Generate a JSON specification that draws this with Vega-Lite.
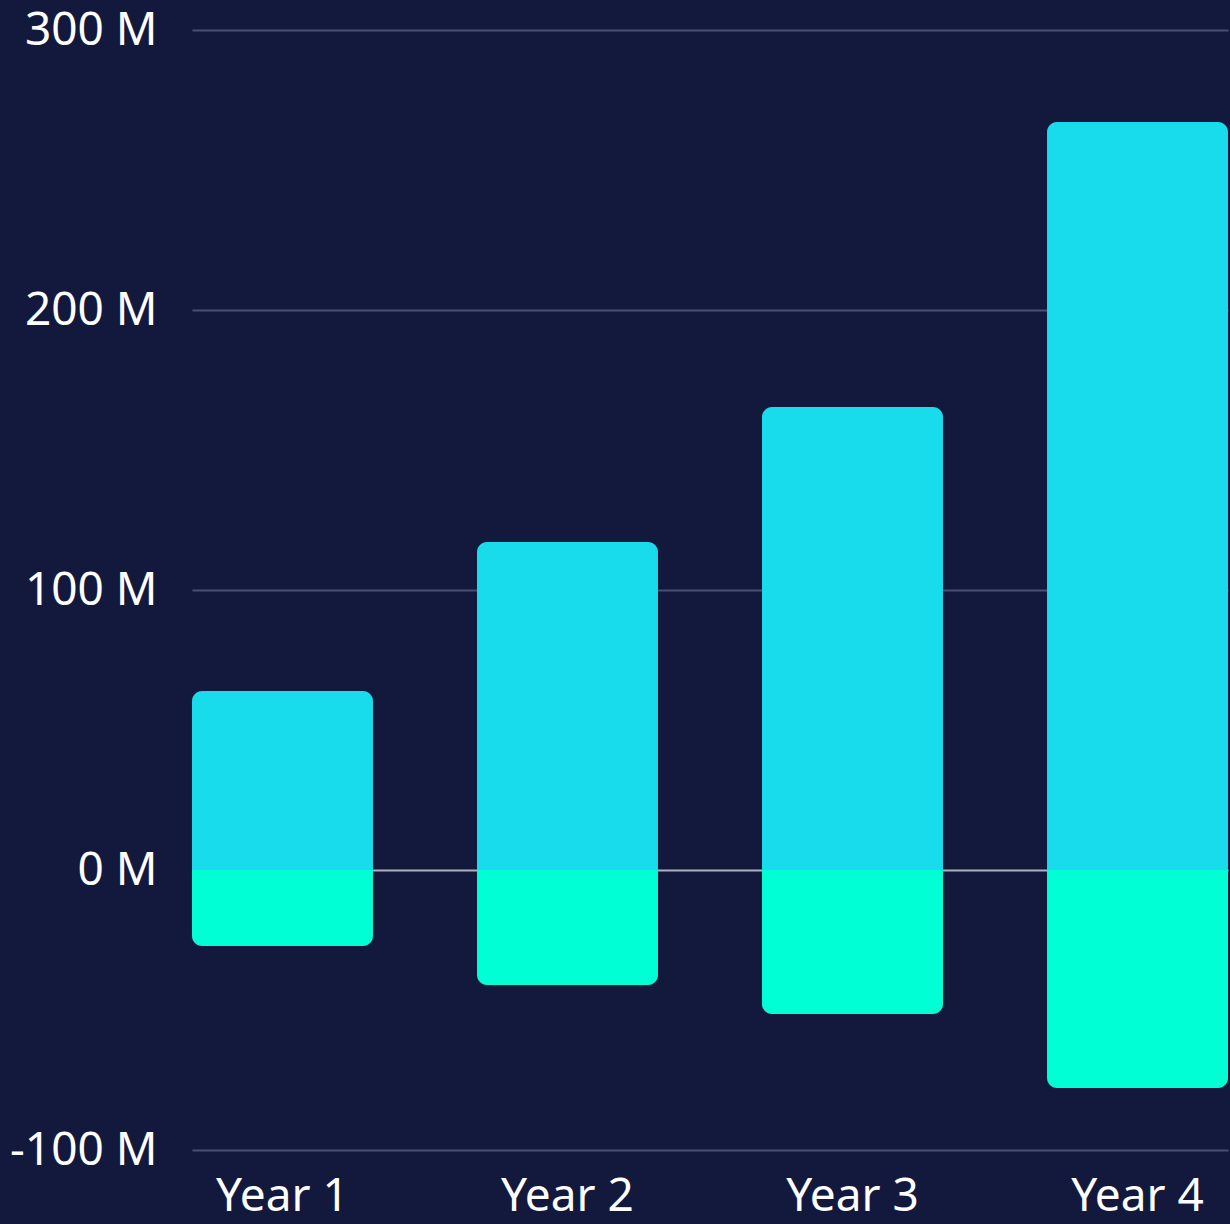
{
  "$schema": "https://vega.github.io/schema/vega-lite/v6.json",
  "autosize": {"type": "none"},
  "padding": {"left": 192, "top": 30, "right": 2, "bottom": 74},
  "width": 1036,
  "height": 1120,
  "background": "#13193d",
  "config": {"view": {"stroke": null}},
  "data": {
    "values": [
      {"year": "Year 1", "type": "inflow", "value": 63.9},
      {"year": "Year 1", "type": "outflow", "value": -27.1},
      {"year": "Year 2", "type": "inflow", "value": 117.1},
      {"year": "Year 2", "type": "outflow", "value": -41.1},
      {"year": "Year 3", "type": "inflow", "value": 165.4},
      {"year": "Year 3", "type": "outflow", "value": -51.4},
      {"year": "Year 4", "type": "inflow", "value": 267.1},
      {"year": "Year 4", "type": "outflow", "value": -77.9}
    ]
  },
  "encoding": {
    "x": {
      "field": "year",
      "type": "nominal",
      "scale": {"paddingInner": 0.365, "paddingOuter": 0},
      "axis": {
        "title": null,
        "labelAngle": 0,
        "labelFont": "Noto Sans",
        "labelFontSize": 46,
        "labelColor": "#ffffff",
        "labelPadding": 24,
        "domain": false,
        "ticks": false,
        "grid": false
      }
    },
    "y": {
      "field": "value",
      "type": "quantitative",
      "stack": null,
      "scale": {"domain": [-100, 300], "nice": false},
      "axis": {
        "title": null,
        "values": [-100, 0, 100, 200, 300],
        "labelExpr": "datum.value + ' M'",
        "labelFont": "Noto Sans",
        "labelFontSize": 46,
        "labelColor": "#ffffff",
        "labelPadding": 35,
        "domain": false,
        "ticks": false,
        "grid": true,
        "gridWidth": 2,
        "gridColor": {"condition": {"test": "datum.value === 0", "value": "#aeb1c0"}, "value": "#4a5072"},
        "zindex": 0
      }
    },
    "color": {
      "field": "type",
      "type": "nominal",
      "scale": {"domain": ["inflow", "outflow"], "range": ["#18dceb", "#00ffd4"]},
      "legend": null
    }
  },
  "layer": [
    {
      "transform": [{"filter": "datum.value >= 0"}],
      "mark": {"type": "bar", "cornerRadiusTopLeft": 10, "cornerRadiusTopRight": 10}
    },
    {
      "transform": [{"filter": "datum.value < 0"}],
      "mark": {"type": "bar", "cornerRadiusBottomLeft": 10, "cornerRadiusBottomRight": 10}
    }
  ]
}
